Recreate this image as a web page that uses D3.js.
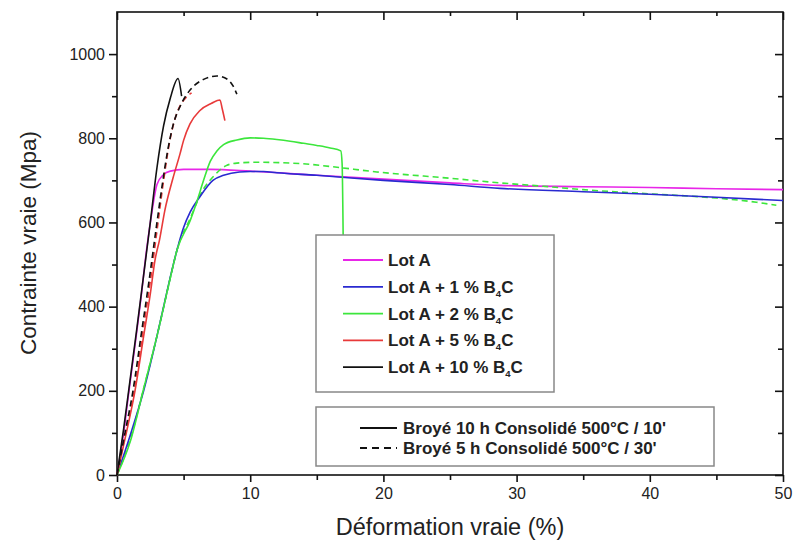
<!DOCTYPE html>
<html>
<head>
<meta charset="utf-8">
<script src="https://cdn.jsdelivr.net/npm/d3@7"></script>
<style>
  body { margin: 0; background: #fff; }
  svg { font-family: "Liberation Sans", Arial, sans-serif; }
</style>
</head>
<body>
<svg id="chart" width="795" height="545"></svg>
<script>
// ---- Data (strain %, true stress MPa) ----
const lotA = [[0,0],[0.5,100],[0.9,200],[1.4,320],[1.8,420],[2.2,530],[2.6,620],[3,690],[3.5,714],[4,722],[5,726],[7,726],[10,722],[15,712],[20,703],[25,694],[28.75,688],[35,685],[40,683],[45,680],[50,678]];
const lotA1 = [[0,0],[1,95],[2,200],[3,330],[3.5,400],[4,470],[4.5,534],[5,588],[5.5,625],[6.2,660],[7.2,700],[8,712],[9.2,720],[10,721],[11,721],[12,718],[15,712],[20,700],[25,690],[28.75,681],[35,673],[40,667],[45,660],[50,652]];
const lotA2 = [[0,0],[1,80],[2,205],[3,330],[4,468],[4.5,534],[5.5,605],[6,650],[6.5,700],[7,745],[7.5,770],[8,785],[9,796],[10,801],[11,800],[12,797],[13,793],[14,788],[15,783],[16,777],[16.8,770],[16.9,740],[16.98,565]];
const lotA5 = [[0,0],[0.7,100],[1.35,200],[2,330],[2.5,430],[2.85,510],[3.2,560],[3.6,630],[4.2,705],[4.73,763],[5,795],[5.48,834],[6.23,866],[7.1,883],[7.73,891],[7.9,870],[8.1,842]];
const lotA10 = [[0,0],[0.5,110],[1,230],[1.5,350],[2,475],[2.5,600],[3,730],[3.5,830],[4,895],[4.58,942],[4.85,900]];
const lotA2_5h = [[0,0],[1,85],[2,205],[3,330],[4,468],[4.5,534],[5.5,610],[6.5,680],[7.2,708],[8.2,735],[9,741],[10.5,743],[13.7,740],[16,733],[19.5,720],[25,705],[28.75,694],[32,686],[35,678],[40,668],[45,658],[48,648],[49.5,641]];
const lotA5_5h = [[0,0],[0.65,100],[1.3,200],[1.9,330],[2.5,460],[3,580],[3.5,700],[4,800],[4.5,860],[5,890],[5.6,908]];
const lotA10_5h = [[0,0],[0.6,100],[1.2,200],[1.8,330],[2.4,460],[3,600],[3.4,690],[3.8,770],[4.2,830],[4.8,880],[5.5,915],[6.5,940],[7.5,948],[8.3,940],[8.7,925],[9,905]];

const xTicks = [0,10,20,30,40,50];
const yTicks = [0,200,400,600,800,1000];
const xLabel = "Déformation vraie (%)";
const yLabel = "Contrainte vraie (Mpa)";
const legendNames = ["Lot A", "Lot A + 1 % B", "Lot A + 2 % B", "Lot A + 5 % B", "Lot A + 10 % B"];
const legendColors = ["#e826e8", "#2a2ad0", "#3ce63c", "#e83a3a", "#111111"];
const legend2Names = ["Broyé 10 h Consolidé 500°C / 10'", "Broyé 5 h Consolidé 500°C / 30'"];

// ---- Layout ----
const svg = d3.select("#chart");
const L = 117, R = 783, T = 12, B = 475;
const x = d3.scaleLinear().domain([0, 50]).range([L, R]);
const y = d3.scaleLinear().domain([0, 1100]).range([B, T]);

const minorX = d3.range(5, 50, 10);
const minorY = d3.range(100, 1100, 200);

const axB = svg.append("g").attr("transform", `translate(0,${B})`)
  .call(d3.axisBottom(x).tickValues(xTicks).tickSize(7).tickPadding(6).tickFormat(d3.format("d")));
const axBm = svg.append("g").attr("transform", `translate(0,${B})`)
  .call(d3.axisBottom(x).tickValues(minorX).tickSize(5).tickFormat(""));
const axL = svg.append("g").attr("transform", `translate(${L},0)`)
  .call(d3.axisLeft(y).tickValues(yTicks).tickSize(8).tickPadding(4).tickFormat(d3.format("d")));
const axLm = svg.append("g").attr("transform", `translate(${L},0)`)
  .call(d3.axisLeft(y).tickValues(minorY).tickSize(5).tickFormat(""));
const axT = svg.append("g").attr("transform", `translate(0,${T})`)
  .call(d3.axisBottom(x).tickValues(xTicks).tickSize(8).tickFormat(""));
const axTm = svg.append("g").attr("transform", `translate(0,${T})`)
  .call(d3.axisBottom(x).tickValues(minorX).tickSize(4).tickFormat(""));
const axR = svg.append("g").attr("transform", `translate(${R},0)`)
  .call(d3.axisLeft(y).tickValues(yTicks).tickSize(8).tickFormat(""));
const axRm = svg.append("g").attr("transform", `translate(${R},0)`)
  .call(d3.axisLeft(y).tickValues(minorY).tickSize(5).tickFormat(""));

[axB, axBm, axL, axLm, axT, axTm, axR, axRm].forEach(g => {
  g.select(".domain").remove();
  g.selectAll(".tick line").attr("stroke", "#111").attr("stroke-width", 1.6);
  g.selectAll("text").attr("font-size", 16).attr("fill", "#222")
    .attr("font-family", "Liberation Sans, Arial, sans-serif");
});

// frame
svg.append("rect").attr("x", L).attr("y", T).attr("width", R - L).attr("height", B - T)
  .attr("fill", "none").attr("stroke", "#111").attr("stroke-width", 1.6);

// axis titles
svg.append("text").attr("x", 450).attr("y", 535).attr("text-anchor", "middle")
  .attr("font-size", 23.5).attr("fill", "#222").text(xLabel);
svg.append("text").attr("transform", `translate(36,243) rotate(-90)`)
  .attr("text-anchor", "middle").attr("font-size", 22.5).attr("fill", "#222").text(yLabel);

// curves
const line = d3.line().x(d => x(d[0])).y(d => y(d[1])).curve(d3.curveMonotoneX);
const plotG = svg.append("g");
const series = [
  {d: lotA, c: legendColors[0], dash: null},
  {d: lotA2_5h, c: legendColors[2], dash: "6,4"},
  {d: lotA1, c: legendColors[1], dash: null},
  {d: lotA2, c: legendColors[2], dash: null},
  {d: lotA5_5h, c: legendColors[3], dash: "6,4"},
  {d: lotA5, c: legendColors[3], dash: null},
  {d: lotA10_5h, c: legendColors[4], dash: "6,4"},
  {d: lotA10, c: legendColors[4], dash: null}
];
series.forEach(s => {
  plotG.append("path").attr("d", line(s.d)).attr("fill", "none")
    .attr("stroke", s.c).attr("stroke-width", 1.6)
    .attr("stroke-dasharray", s.dash);
});

// legend 1
const lg = svg.append("g");
lg.append("rect").attr("x", 316).attr("y", 235).attr("width", 238).attr("height", 157)
  .attr("fill", "#fff").attr("stroke", "#888").attr("stroke-width", 1.5);
legendNames.forEach((n, i) => {
  const yy = 260 + i * 26.8;
  lg.append("line").attr("x1", 343).attr("x2", 383).attr("y1", yy).attr("y2", yy)
    .attr("stroke", legendColors[i]).attr("stroke-width", 1.8);
  const t = lg.append("text").attr("x", 388).attr("y", yy + 6)
    .attr("font-size", 17).attr("font-weight", "bold").attr("fill", "#222");
  t.append("tspan").text(n);
  if (i > 0) {
    t.append("tspan").attr("font-size", 9.5).attr("dy", 4).text("4");
    t.append("tspan").attr("dy", -4).text("C");
  }
});

// legend 2
const lg2 = svg.append("g");
lg2.append("rect").attr("x", 316).attr("y", 407).attr("width", 398).attr("height", 59)
  .attr("fill", "#fff").attr("stroke", "#888").attr("stroke-width", 1.5);
legend2Names.forEach((n, i) => {
  const yy = 428 + i * 20;
  lg2.append("line").attr("x1", 360).attr("x2", 397).attr("y1", yy).attr("y2", yy)
    .attr("stroke", "#111").attr("stroke-width", 1.8)
    .attr("stroke-dasharray", i === 1 ? "7,5" : null);
  lg2.append("text").attr("x", 403).attr("y", yy + 6)
    .attr("font-size", 17).attr("font-weight", "bold").attr("fill", "#222").text(n);
});
</script>
</body>
</html>
